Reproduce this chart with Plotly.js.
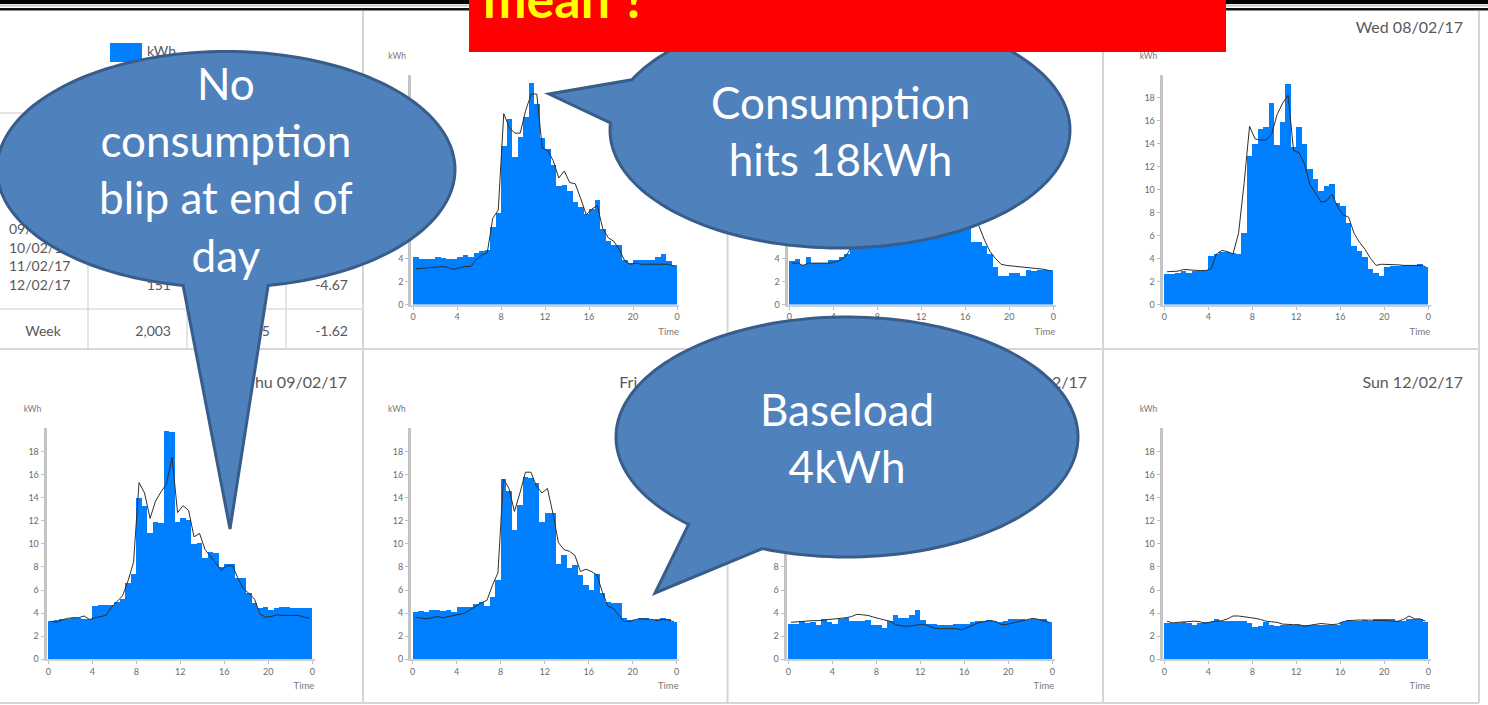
<!DOCTYPE html>
<html><head><meta charset="utf-8">
<script src="https://cdn.plot.ly/plotly-3.0.1.min.js"></script>
<style>html,body{margin:0;padding:0;background:#fff;overflow:hidden}#chart{width:1488px;height:705px}</style>
</head><body><div id="chart"></div>
<script>
const W = 1488, H = 705;

// ---------------- data ----------------
const dayTitles = ['Mon 06/02/17','Tue 07/02/17','Wed 08/02/17','Thu 09/02/17','Fri 10/02/17','Sat 11/02/17','Sun 12/02/17'];
const halfHours = Array.from({length: 48}, (_, i) => i / 2 + 0.25);
const hourTickVals = [0, 4, 8, 12, 16, 20, 24];
const hourTickText = ['0', '4', '8', '12', '16', '20', '0'];
const kwhTickVals = [0, 2, 4, 6, 8, 10, 12, 14, 16, 18];

const monUsage = [4.1,4.0,4.0,4.0,4.15,4.05,4.0,4.0,4.15,4.3,4.15,4.5,
  4.65,4.7,6.7,8.0,13.8,16.1,12.8,14.6,16.3,19.3,17.4,14.5,
  13.5,12.1,10.3,10.4,9.9,8.9,8.5,7.9,8.3,9.1,6.6,5.5,
  5.2,5.2,3.9,3.6,3.9,3.9,3.9,3.9,4.15,4.35,3.75,3.4];
const monAvg = [3.1,3.15,3.2,3.2,3.3,3.3,3.2,3.05,3.2,3.3,3.3,3.9,
  4.3,4.5,7.5,8.2,16.6,15.4,14.9,14.9,16.9,18.3,18.3,13.6,
  13.4,12.5,11.0,11.6,10.6,10.5,9.2,7.8,8.3,8.6,6.6,5.8,
  5.5,4.8,3.8,3.5,3.6,3.5,3.5,3.5,3.5,3.5,3.5,3.3];
const tueUsage = [3.75,4.0,3.4,4.15,3.6,3.6,3.6,3.9,3.9,4.15,4.35,5.5,
  6.5,8.0,12.0,14.5,15.0,15.5,16.2,15.0,16.8,17.5,14.5,13.5,
  12.5,11.5,11.0,10.0,9.5,8.8,8.5,7.8,7.0,5.4,5.4,5.1,
  4.35,3.3,2.5,2.5,2.7,2.7,2.45,3.0,2.9,3.0,3.0,3.0];
const tueAvg = [3.6,3.6,3.4,3.6,3.6,3.6,3.6,3.6,3.7,3.9,4.35,5.2,
  5.8,7.0,9.5,13.5,15.0,14.8,15.2,15.8,16.5,16.8,15.5,13.8,
  13.0,12.0,11.2,10.5,9.8,9.2,8.7,8.3,8.0,7.5,6.8,5.6,
  4.6,4.0,3.5,3.4,3.35,3.3,3.3,3.2,3.15,3.1,3.05,2.9];
const wedUsage = [2.65,2.65,2.7,2.9,2.75,2.9,2.9,3.0,4.2,4.4,4.55,4.55,
  4.45,4.35,6.2,12.9,14.0,15.3,15.4,17.5,13.9,15.9,19.2,13.7,
  15.4,14.0,11.8,10.9,9.9,10.3,10.5,8.8,8.6,7.1,5.05,4.65,
  4.1,3.1,2.75,2.5,3.3,3.35,3.35,3.4,3.4,3.4,3.5,3.3];
const wedAvg = [2.85,2.85,2.9,3.05,3.0,3.0,2.95,2.95,3.1,4.4,4.7,4.6,
  4.4,6.2,10.5,15.5,14.4,14.3,14.3,14.8,16.5,17.5,18.2,13.4,
  13.2,12.2,10.4,9.7,8.9,9.0,9.6,8.5,7.8,7.6,6.2,5.4,
  4.8,4.0,3.4,3.5,3.5,3.45,3.45,3.4,3.4,3.4,3.4,3.3];
const thuUsage = [3.35,3.4,3.5,3.5,3.6,3.6,3.5,3.5,4.6,4.7,4.7,4.7,
  5.0,5.2,6.6,7.4,14.0,13.3,10.9,11.9,11.8,19.8,19.7,11.9,
  12.2,12.1,10.0,10.1,8.8,9.3,9.2,8.0,8.25,8.25,7.0,7.0,
  5.7,4.85,4.4,4.55,4.25,4.4,4.5,4.55,4.45,4.45,4.45,4.45];
const thuAvg = [3.3,3.2,3.4,3.55,3.6,3.6,3.75,3.45,3.6,3.7,3.8,4.5,
  5.0,5.5,6.8,8.4,15.3,14.4,12.2,13.7,14.5,15.2,17.5,12.7,
  13.3,12.9,10.6,10.9,9.5,8.9,8.3,7.7,8.1,8.1,7.0,6.1,
  5.7,5.2,3.9,3.65,3.7,3.85,3.8,3.8,3.8,3.8,3.65,3.55];
const friUsage = [4.1,4.2,4.1,4.3,4.3,4.15,4.3,4.1,4.55,4.55,4.55,4.75,
  5.0,4.6,5.4,6.85,15.6,14.6,11.2,13.4,15.8,15.7,15.3,11.9,
  12.7,12.7,8.25,9.0,7.9,8.2,7.3,6.4,6.0,7.35,5.7,5.0,
  4.9,4.9,3.6,3.4,3.4,3.55,3.55,3.4,3.45,3.6,3.5,3.2];
const friAvg = [3.65,3.6,3.5,3.6,3.7,3.6,3.7,3.75,3.85,4.0,4.3,4.6,
  4.9,5.1,6.4,7.5,15.6,14.8,12.8,14.4,16.2,16.2,15.0,14.4,
  14.8,12.6,10.1,9.5,9.35,9.0,7.6,7.8,7.6,7.3,5.8,4.6,
  4.4,3.8,3.25,3.3,3.45,3.5,3.5,3.45,3.35,3.45,3.4,3.25];
const satUsage = [3.05,3.05,3.35,3.15,3.2,3.0,3.5,3.2,3.05,3.5,3.6,3.35,
  3.35,3.35,3.4,2.95,2.95,2.75,3.3,3.8,3.6,3.6,3.8,4.25,
  3.4,3.05,3.05,3.0,3.0,2.95,3.05,3.05,3.05,3.2,3.35,3.35,
  3.4,3.3,3.2,3.3,3.5,3.5,3.5,3.4,3.5,3.5,3.5,3.2];
const satAvg = [3.2,3.25,3.3,3.3,3.35,3.35,3.4,3.45,3.5,3.5,3.6,3.7,
  3.9,3.85,3.8,3.65,3.5,3.4,3.3,3.0,2.9,2.85,2.9,2.95,
  3.05,2.9,2.7,2.65,2.65,2.65,2.65,2.55,2.75,3.0,3.15,3.25,
  3.35,3.3,3.05,3.0,3.1,3.25,3.35,3.4,3.55,3.45,3.35,3.2];
const sunUsage = [3.1,3.1,3.15,3.25,3.15,3.0,3.1,3.25,3.25,3.5,3.3,3.3,
  3.3,3.35,3.35,3.15,2.8,2.9,3.25,2.95,2.9,3.0,3.0,3.0,
  3.0,3.0,3.0,3.0,3.0,3.0,3.0,3.0,3.2,3.4,3.3,3.35,
  3.4,3.3,3.45,3.45,3.45,3.45,3.3,3.3,3.5,3.5,3.45,3.2];
const sunAvg = [3.3,3.15,3.2,3.25,3.3,3.3,3.25,3.1,3.25,3.3,3.35,3.5,
  3.75,3.75,3.7,3.65,3.55,3.45,3.3,3.25,3.2,3.05,3.0,3.0,
  3.0,2.85,2.95,3.05,3.1,3.05,3.0,3.05,3.25,3.35,3.4,3.4,
  3.4,3.4,3.4,3.4,3.35,3.3,3.3,3.45,3.75,3.5,3.5,3.3];

const usageSeries = [monUsage, tueUsage, wedUsage, thuUsage, friUsage, satUsage, sunUsage];
const avgSeries = [monAvg, tueAvg, wedAvg, thuAvg, friAvg, satAvg, sunAvg];

const legendLabel = 'kWh';
const axisUnit = 'kWh';
const axisTime = 'Time';
const tableDates = ['09/02/17', '10/02/17', '11/02/17', '12/02/17'];
const tableKwh = ['', '', '', '151'];
const tableDiff = ['', '', '', '-4.67'];
const weekRow = ['Week', '2,003', '2,035', '-1.62'];
const calloutTexts = ['No<br>consumption<br>blip at end of<br>day', 'Consumption<br>hits 18kWh', 'Baseload<br>4kWh'];
const bannerText = 'mean ?';

// ---------------- geometry (pixels) ----------------
const G = {
  x0: [413, 789.3, 1164.3, 48.3, 412.7, 788.3, 1164.3],
  row: [0, 0, 0, 1, 1, 1, 1],
  panelRight: [727.5, 1103, 1479, 363, 727.5, 1103, 1479],
  y0: [304.5, 659.3], ppu: [11.5, 11.55], pph: 11.0,
  titleY: [28.5, 383.5], kwhY: [57, 410], timeY: [332.5, 686.5],
  // labels fully covered by the banner / callouts in the picture
  titleShown: [false, false, true, true, true, true, true],
  unitShown: [true, false, true, true, true, false, true]
};
const FONT = 'Lato, "Open Sans", sans-serif';
const GRAY = '#595959';
const px = (x, y) => (x / W).toFixed(5) + ',' + (1 - y / H).toFixed(5);

const data = [];
const layout = {
  width: W, height: H, margin: {l: 0, r: 0, t: 0, b: 0},
  paper_bgcolor: '#ffffff', plot_bgcolor: 'rgba(0,0,0,0)',
  showlegend: false, bargap: 0, font: {family: FONT, color: GRAY},
  shapes: [], annotations: []
};

usageSeries.forEach((u, d) => {
  const k = d === 0 ? '' : String(d + 1);
  const r = G.row[d];
  const x0 = G.x0[d];
  const yb = G.y0[r], yt = G.y0[r] - 20 * G.ppu[r];
  layout['xaxis' + k] = {
    domain: [(x0 - 0.15 * G.pph) / W, (x0 + 24.2 * G.pph) / W],
    range: [-0.15, 24.2], anchor: 'y' + k, fixedrange: true,
    showgrid: false, zeroline: false, showline: true, linecolor: '#cfcfcf', linewidth: 2,
    ticks: 'outside', ticklen: 3, tickcolor: '#bdbdbd', tickwidth: 1,
    tickvals: hourTickVals, ticktext: hourTickText,
    tickfont: {size: 9, color: '#6b6b6b', family: FONT}
  };
  layout['yaxis' + k] = {
    domain: [1 - yb / H, 1 - yt / H],
    range: [0, 20], anchor: 'x' + k, fixedrange: true,
    showgrid: false, zeroline: false, showline: true, linecolor: '#c4c4c4', linewidth: 3,
    ticks: 'outside', ticklen: 3, tickcolor: '#bdbdbd', tickwidth: 1,
    tickvals: kwhTickVals, tickfont: {size: 9, color: '#6b6b6b', family: FONT}
  };
  data.push({type: 'bar', x: halfHours, y: u, width: 0.5, xaxis: 'x' + k, yaxis: 'y' + k,
    marker: {color: '#0080ff', line: {width: 0}}, hoverinfo: 'skip'});
  data.push({type: 'scatter', mode: 'lines', x: halfHours, y: avgSeries[d], xaxis: 'x' + k, yaxis: 'y' + k,
    line: {color: '#2e2e2e', width: 1}, hoverinfo: 'skip'});
});

// overlay axis in pixel units for texts that sit underneath the callouts
layout.xaxis8 = {domain: [0, 1], range: [0, W], visible: false, fixedrange: true, anchor: 'y8'};
layout.yaxis8 = {domain: [0, 1], range: [H, 0], visible: false, fixedrange: true, anchor: 'x8'};
function textTrace(xs, ys, texts, pos, size, color) {
  data.push({type: 'scatter', mode: 'text', x: xs, y: ys, text: texts, textposition: pos,
    textfont: {size: size, color: color, family: FONT}, xaxis: 'x8', yaxis: 'y8', hoverinfo: 'skip', cliponaxis: false});
}
const idx = dayTitles.map((_, d) => d);
const tIdx = idx.filter(d => G.titleShown[d]);
const uIdx = idx.filter(d => G.unitShown[d]);
// titles
textTrace(tIdx.map(d => G.panelRight[d] - 16), tIdx.map(d => G.titleY[G.row[d]]), tIdx.map(d => dayTitles[d]), 'middle left', 16, GRAY);
// kWh axis labels
textTrace(uIdx.map(d => G.x0[d] - 7), uIdx.map(d => G.kwhY[G.row[d]]), uIdx.map(() => axisUnit), 'middle left', 8.5, '#7a7a7a');
// Time labels
textTrace(idx.map(d => G.x0[d] + 266), idx.map(d => G.timeY[G.row[d]]), idx.map(() => axisTime), 'middle left', 9.5, '#7a7a7a');
// table
const rowY = [230.5, 249, 267.5, 286];
textTrace(tableDates.map(() => 9), rowY, tableDates, 'middle right', 14, GRAY);
textTrace(tableKwh.map(() => 171), rowY, tableKwh, 'middle left', 14, GRAY);
textTrace(tableDiff.map(() => 348), rowY, tableDiff, 'middle left', 14, GRAY);
textTrace([43], [332], [weekRow[0]], 'middle center', 14, GRAY);
textTrace([171, 270, 348], [332, 332, 332], weekRow.slice(1), 'middle left', 14, GRAY);
textTrace([147], [52], [legendLabel], 'middle right', 14, GRAY);

// ---------------- shapes ----------------
const S = layout.shapes;
function rect(x0, y0, x1, y1, fill, layer) {
  S.push({type: 'rect', xref: 'paper', yref: 'paper', x0: x0 / W, x1: x1 / W, y0: 1 - y1 / H, y1: 1 - y0 / H,
    fillcolor: fill, line: {width: 0}, layer: layer || 'below'});
}
function line(x0, y0, x1, y1, color, width) {
  S.push({type: 'line', xref: 'paper', yref: 'paper', x0: x0 / W, x1: x1 / W, y0: 1 - y0 / H, y1: 1 - y1 / H,
    line: {color: color, width: width}, layer: 'below'});
}
// panel frame
[363, 727.5, 1103, 1479].forEach(x => line(x, 11, x, 703, '#d6d6d6', 2));
line(0, 349, 1479, 349, '#d6d6d6', 2);
line(0, 703, 1479, 703, '#d6d6d6', 2);
// table grid
line(0, 113, 363, 113, '#dcdcdc', 1.5);
line(0, 309, 363, 309, '#dcdcdc', 1.5);
[88, 187, 286].forEach(x => line(x, 113, x, 349, '#dcdcdc', 1.5));
// legend swatch
rect(110, 43, 142, 62, '#0080ff', 'below');
// top bands
rect(0, 0, W, 4, '#000000', 'above');
rect(0, 4.5, W, 6.5, '#c8c8c8', 'above');
rect(0, 8, W, 10.5, '#111111', 'above');

function calloutPath(cx, cy, rx, ry, aFrom, aTo, tip) {
  let s = '';
  const n = 160;
  for (let i = 0; i <= n; i++) {
    const a = (aFrom + (aTo - aFrom) * i / n) * Math.PI / 180;
    s += (i ? 'L' : 'M') + px(cx + rx * Math.cos(a), cy + ry * Math.sin(a));
  }
  return s + 'L' + px(tip[0], tip[1]) + 'Z';
}
const bubbles = [
  {cx: 226, cy: 169.5, rx: 229, ry: 118, a0: 100.8, a1: 439.4, tip: [230, 529], ty: 169},
  {cx: 840, cy: 130, rx: 230, ry: 118, a0: 205.2, a1: 543.4, tip: [549, 94], ty: 130},
  {cx: 847, cy: 437, rx: 231, ry: 120, a0: 133.3, a1: 471.5, tip: [655, 593], ty: 437}
];
bubbles.forEach((b, i) => {
  S.push({type: 'path', xref: 'paper', yref: 'paper', path: calloutPath(b.cx, b.cy, b.rx, b.ry, b.a0, b.a1, b.tip),
    fillcolor: '#4f81bd', line: {color: '#385d8a', width: 3}, layer: 'above'});
  layout.annotations.push({xref: 'paper', yref: 'paper', x: b.cx / W, y: 1 - b.ty / H, xanchor: 'center', yanchor: 'middle',
    text: calloutTexts[i], showarrow: false, font: {family: FONT, size: 44, color: '#ffffff'}});
});
// red banner
rect(469, -2, 1226, 52, '#ff0000', 'above');
layout.annotations.push({xref: 'paper', yref: 'paper', x: 481 / W, y: 1 - (-2) / H, xanchor: 'left', yanchor: 'middle',
  text: bannerText, showarrow: false, font: {family: FONT, size: 52, color: '#ffff00', weight: 700}});

Plotly.newPlot('chart', data, layout, {staticPlot: true, displayModeBar: false});
</script>
</body></html>
